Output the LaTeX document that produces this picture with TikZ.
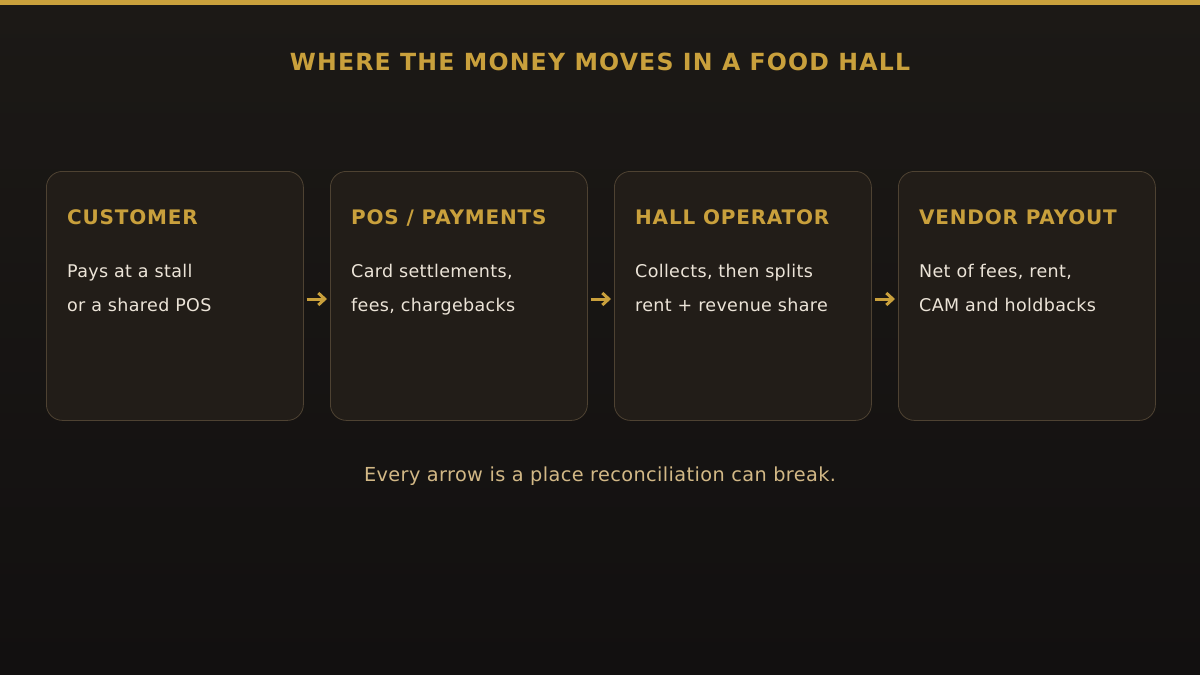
\documentclass[tikz,border=0pt]{standalone}
\usepackage{fontspec}
\setmainfont{DejaVu Sans}
\newfontfamily\titlefont[LetterSpace=5]{DejaVu Sans Bold}
\newfontfamily\headfont[LetterSpace=4]{DejaVu Sans Bold}
\newfontfamily\bodyfont[LetterSpace=2]{DejaVu Sans}
\usetikzlibrary{arrows.meta,positioning}
\definecolor{bgtop}{HTML}{1C1916}
\definecolor{bgbot}{HTML}{121010}
\definecolor{gold}{HTML}{C9A03C}
\definecolor{boxfill}{HTML}{221D18}
\definecolor{boxline}{HTML}{4E4232}
\definecolor{bodytxt}{HTML}{ECE4D8}
\definecolor{captxt}{HTML}{D2B886}
\tikzset{
  card/.style={draw=boxline, line width=0.8pt, fill=boxfill, rounded corners=16pt,
    minimum width=257pt, minimum height=249pt, anchor=north west, inner sep=0pt},
  head/.style={anchor=base west, inner sep=0pt, text=gold, font=\headfont\fontsize{20}{20}\selectfont},
  body/.style={anchor=base west, inner sep=0pt, text=bodytxt,
    font=\bodyfont\fontsize{17.5}{17.5}\selectfont},
  flow/.style={draw=gold, line width=3pt, -{Straight Barb[length=6.5pt,width=12pt,line width=3pt]}, shorten <=2.7pt, shorten >=3pt}
}
\begin{document}
\begin{tikzpicture}[x=1pt,y=-1pt]
\useasboundingbox (0,0) rectangle (1200,675);
\shade[top color=bgtop, bottom color=bgbot] (0,0) rectangle (1200,675);
\fill[gold] (0,0) rectangle (1200,5);
\node[anchor=base, text=gold, font=\titlefont\fontsize{23.6}{23.6}\selectfont, inner sep=0pt] (title) at (600,70) {WHERE THE MONEY MOVES IN A FOOD HALL};
\node[card] (c1) at (46,171) {};
\node[card] (c2) at (330,171) {};
\node[card] (c3) at (614,171) {};
\node[card] (c4) at (898,171) {};
\node[head] (h1) at (67,224) {CUSTOMER};
\node[head] (h2) at (351,224) {POS / PAYMENTS};
\node[head] (h3) at (635,224) {HALL OPERATOR};
\node[head] (h4) at (919,224) {VENDOR PAYOUT};
\node[body] (t1a) at (67,277.5) {Pays at a stall};
\node[body] (t1b) at (67,311) {or a shared POS};
\node[body] (t2a) at (351,277.5) {Card settlements,};
\node[body] (t2b) at (351,311) {fees, chargebacks};
\node[body] (t3a) at (635,277.5) {Collects, then splits};
\node[body] (t3b) at (635,311) {rent + revenue share};
\node[body] (t4a) at (919,277.5) {Net of fees, rent,};
\node[body] (t4b) at (919,311) {CAM and holdbacks};
\coordinate (a1s) at (c1.east |- 0,299);
\coordinate (a1e) at (c2.west |- 0,299);
\coordinate (a2s) at (c2.east |- 0,299);
\coordinate (a2e) at (c3.west |- 0,299);
\coordinate (a3s) at (c3.east |- 0,299);
\coordinate (a3e) at (c4.west |- 0,299);
\draw[flow] (a1s) -- (a1e);
\draw[flow] (a2s) -- (a2e);
\draw[flow] (a3s) -- (a3e);
\node[anchor=base, text=captxt, font=\bodyfont\fontsize{19.3}{19.3}\selectfont, inner sep=0pt] (cap) at (600,481) {Every arrow is a place reconciliation can break.};
\end{tikzpicture}
\end{document}
